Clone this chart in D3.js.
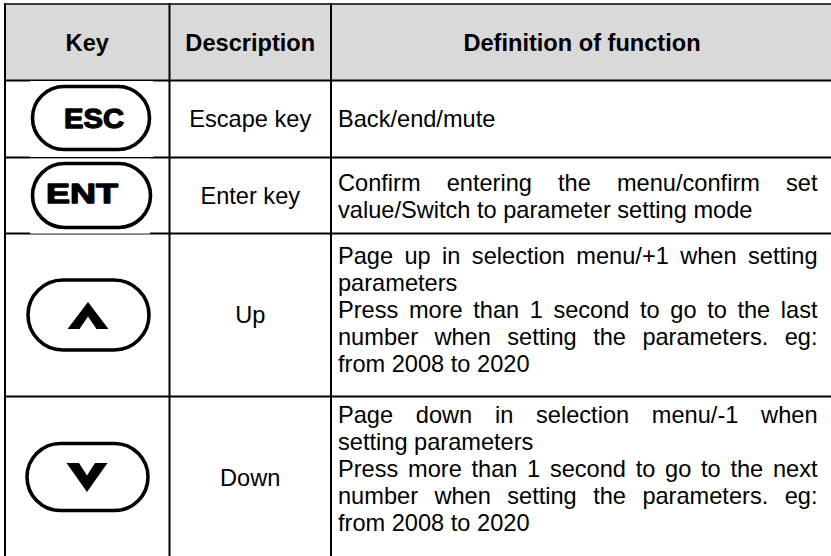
<!DOCTYPE html>
<html><head><meta charset="utf-8">
<script src="https://cdn.jsdelivr.net/npm/d3@7"></script>
<style>html,body{margin:0;padding:0;background:#fff;} svg{display:block;}</style>
</head><body><svg id="c" width="831" height="556"></svg>
<script>
// ---- data ----
const headers = ["Key", "Description", "Definition of function"];
const keyIcons = ["ESC", "ENT", "up", "down"];
const descriptions = ["Escape key", "Enter key", "Up", "Down"];
const definitionLines = [
  ["Back/end/mute"],
  ["Confirm entering the menu/confirm set", "value/Switch to parameter setting mode"],
  ["Page up in selection menu/+1 when setting", "parameters",
   "Press more than 1 second to go to the last", "number when setting the parameters. eg:",
   "from 2008 to 2020"],
  ["Page down in selection menu/-1 when", "setting parameters",
   "Press more than 1 second to go to the next", "number when setting the parameters. eg:",
   "from 2008 to 2020"]
];
const justifyFlags = [
  [false],
  [true, false],
  [true, false, true, true, false],
  [true, false, true, true, false]
];

// ---- layout ----
const FONT = "'Liberation Sans', Arial, Helvetica, sans-serif";
const FS = 23.6, LH = 27;
const colX = [5, 169.5, 331, 833];
const rowY = [4, 80.5, 157.5, 233.5, 396.5, 560];
const firstBaseline = [127, 190.5, 264, 423];
const defLeft = 338, defRight = 817.5;

const svg = d3.select("#c");
const col = d3.scaleOrdinal().domain([0,1,2,3]).range(colX);
const row = d3.scaleOrdinal().domain([0,1,2,3,4,5]).range(rowY);
const colCenter = i => (col(i) + col(i+1)) / 2;

// header background
svg.append("rect").attr("x", col(0)).attr("y", row(0)).attr("width", 831 - col(0))
  .attr("height", row(1) - row(0)).attr("fill", "#d9d9d9");

// header text
svg.selectAll("text.h").data(headers).join("text").attr("class", "h")
  .attr("x", (d, i) => colCenter(i)).attr("y", 50.5)
  .attr("text-anchor", "middle").attr("font-family", FONT)
  .attr("font-weight", "bold").attr("font-size", FS).attr("fill", "#000").text(d => d);

// grid lines
const g = svg.append("g").attr("stroke", "#000").attr("stroke-width", 2).attr("fill", "none");
g.selectAll("line.hz").data(rowY).join("line").attr("class", "hz")
  .attr("x1", col(0) - 1).attr("x2", 831).attr("y1", d => d).attr("y2", d => d)
  .attr("stroke-width", (d, i) => i === 0 ? 1.6 : 2);
g.selectAll("line.vt").data(colX).join("line").attr("class", "vt")
  .attr("x1", d => d).attr("x2", d => d).attr("y1", row(0) - 0.8).attr("y2", 600);

// white image backgrounds for ESC / ENT (they sit over the border lines)
svg.append("rect").attr("x", 30).attr("y", 81).attr("width", 123).attr("height", 76).attr("fill", "#fff");
svg.append("rect").attr("x", 30).attr("y", 158.6).attr("width", 120).attr("height", 75).attr("fill", "#fff");

// key icons
const pills = [
  {x: 32.5, y: 86.5, w: 117, h: 63},
  {x: 32.5, y: 163.5, w: 118, h: 64},
  {x: 28, y: 280, w: 121, h: 70},
  {x: 27, y: 443.5, w: 121, h: 67}
];
const keyTextPos = {ESC: {cx: 94, w: 60, base: 127.5}, ENT: {cx: 82, w: 72, base: 203}};
keyIcons.forEach((k, i) => {
  const p = pills[i];
  svg.append("rect").attr("x", p.x).attr("y", p.y).attr("width", p.w).attr("height", p.h)
    .attr("rx", p.h / 2).attr("ry", p.h / 2)
    .attr("fill", "none").attr("stroke", "#000").attr("stroke-width", 3.6);
  if (keyTextPos[k]) {
    const t = keyTextPos[k];
    svg.append("text").attr("x", t.cx - t.w / 2).attr("y", t.base)
      .attr("font-family", FONT).attr("font-weight", "bold").attr("font-size", 28)
      .attr("textLength", t.w).attr("lengthAdjust", "spacingAndGlyphs")
      .attr("stroke", "#000").attr("stroke-width", 1.3).attr("stroke-linejoin", "round")
      .attr("fill", "#000").text(k);
  } else {
    const cx = p.x + p.w / 2 - 0.5;
    let pts;
    if (k === "up") {
      pts = [[cx, 302], [cx + 20.5, 329], [cx + 8.5, 329], [cx, 316.5], [cx - 8.5, 329], [cx - 20.5, 329]];
    } else {
      pts = [[cx, 492], [cx + 20.5, 463], [cx + 8, 463], [cx, 475.5], [cx - 8, 463], [cx - 20.5, 463]];
    }
    svg.append("path").attr("d", d3.line()(pts) + "Z").attr("fill", "#000");
  }
});

// descriptions
svg.selectAll("text.desc").data(descriptions).join("text").attr("class", "desc")
  .attr("x", colCenter(1))
  .attr("y", (d, i) => (row(i + 1) + row(i + 2)) / 2 + 8)
  .attr("text-anchor", "middle").attr("font-family", FONT).attr("font-size", FS)
  .attr("fill", "#000").text(d => d);

// definitions (justified)
const measure = svg.append("text").attr("font-family", FONT).attr("font-size", FS).attr("visibility", "hidden");
const wWidth = s => { measure.text(s); return measure.node().getComputedTextLength(); };
const W = defRight - defLeft;
definitionLines.forEach((lines, r) => {
  lines.forEach((line, li) => {
    const y = firstBaseline[r] + li * LH;
    const t = svg.append("text").attr("font-family", FONT).attr("font-size", FS).attr("fill", "#000");
    if (justifyFlags[r][li]) {
      const words = line.split(" ");
      const widths = words.map(wWidth);
      const gap = (W - d3.sum(widths)) / (words.length - 1);
      let x = defLeft;
      words.forEach((w, wi) => {
        t.append("tspan").attr("x", x).attr("y", y).text(w);
        x += widths[wi] + gap;
      });
    } else {
      t.attr("x", defLeft).attr("y", y).text(line);
    }
  });
});
measure.remove();
</script></body></html>
